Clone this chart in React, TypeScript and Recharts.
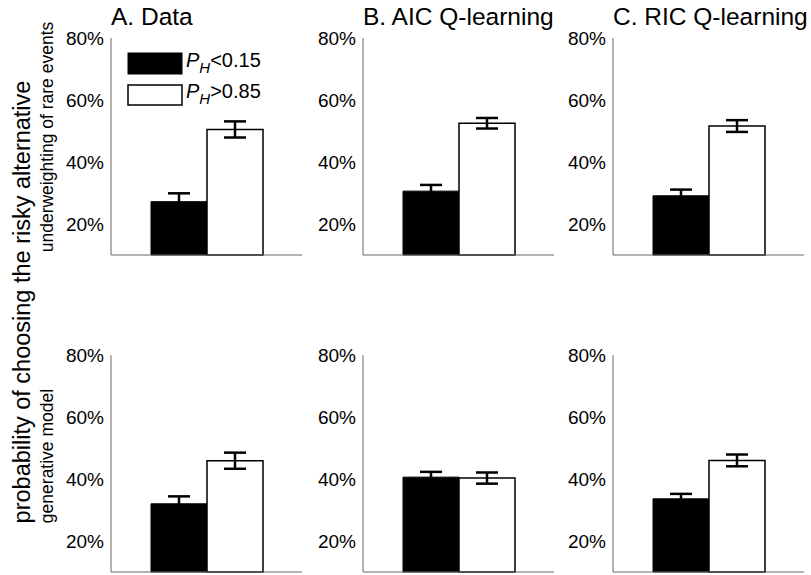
import { BarChart, Bar, XAxis, YAxis, ErrorBar } from 'recharts';

const panelTitles = ['A. Data', 'B. AIC Q-learning', 'C. RIC Q-learning'];
const rowLabels = ['underweighting of rare events', 'generative model'];
const yTicks = [20, 40, 60, 80];

// top row: underweighting of rare events
const lowTop = [27.2, 30.6, 29.1];
const lowTopErr = [2.7, 2.0, 2.0];
const highTop = [50.5, 52.5, 51.6];
const highTopErr = [2.6, 1.7, 1.9];

// bottom row: generative model
const lowBottom = [32.0, 40.6, 33.6];
const lowBottomErr = [2.4, 1.7, 1.6];
const highBottom = [45.9, 40.3, 46.0];
const highBottomErr = [2.6, 1.8, 1.9];

const FONT = '"Liberation Sans", Arial, sans-serif';

const colLeft = [41, 293, 543];
const rowTop = [26, 343];

const rows = [
  { low: lowTop, lowErr: lowTopErr, high: highTop, highErr: highTopErr },
  { low: lowBottom, lowErr: lowBottomErr, high: highBottom, highErr: highBottomErr },
];

function Panel({ low, lowErr, high, highErr }: { low: number; lowErr: number; high: number; highErr: number }) {
  const data = [{ name: 'g', low, lowErr, high, highErr }];
  return (
    <BarChart
      width={265}
      height={231}
      data={data}
      margin={{ top: 12, right: 4, left: 0, bottom: 0 }}
      barCategoryGap={40}
      barGap={0}
    >
      <XAxis dataKey="name" tick={false} tickLine={false} height={2} axisLine={{ stroke: '#666', strokeWidth: 1 }} />
      <YAxis
        domain={[10, 80]}
        ticks={yTicks}
        width={70}
        tickLine={false}
        tickSize={5}
        tickMargin={2}
        axisLine={{ stroke: '#666', strokeWidth: 1 }}
        tickFormatter={(v) => `${v}%`}
        tick={{ fill: '#000', fontSize: 19, fontFamily: FONT }}
      />
      <Bar dataKey="low" fill="#000" stroke="#000" strokeWidth={1} isAnimationActive={false}>
        <ErrorBar dataKey="lowErr" direction="y" width={11} stroke="#000" strokeWidth={2.5} />
      </Bar>
      <Bar dataKey="high" fill="#fff" stroke="#000" strokeWidth={1.5} isAnimationActive={false}>
        <ErrorBar dataKey="highErr" direction="y" width={11} stroke="#000" strokeWidth={2.5} />
      </Bar>
    </BarChart>
  );
}

export default function App() {
  return (
    <div style={{ position: 'absolute', left: 0, top: 0, width: 811, height: 575, background: '#fff', overflow: 'hidden' }}>
      {rows.map((r, ri) =>
        panelTitles.map((_, ci) => (
          <div key={`${ri}-${ci}`} style={{ position: 'absolute', left: colLeft[ci], top: rowTop[ri] }}>
            <Panel low={r.low[ci]} lowErr={r.lowErr[ci]} high={r.high[ci]} highErr={r.highErr[ci]} />
          </div>
        ))
      )}
      <svg width={811} height={575} style={{ position: 'absolute', left: 0, top: 0, pointerEvents: 'none' }}>
        <g fontFamily={FONT} fill="#000">
          {panelTitles.map((t, i) => (
            <text key={t} x={colLeft[i] + 70} y={25} fontSize={24.5}>{t}</text>
          ))}
          <text transform="translate(30,302) rotate(-90)" textAnchor="middle" fontSize={23.5}>
            probability of choosing the risky alternative
          </text>
          <text transform="translate(53,137) rotate(-90)" textAnchor="middle" fontSize={17.5}>
            {rowLabels[0]}
          </text>
          <text transform="translate(53,456) rotate(-90)" textAnchor="middle" fontSize={17.5}>
            {rowLabels[1]}
          </text>
          {/* legend */}
          <rect x={128} y={53} width={54} height={21} fill="#000" stroke="#000" />
          <rect x={128} y={85} width={54} height={20} fill="#fff" stroke="#000" strokeWidth={1.5} />
          <text x={186} y={67} fontSize={20}>
            <tspan fontStyle="italic">P</tspan>
            <tspan fontSize={15} fontStyle="italic" dy={6}>H</tspan>
            <tspan dy={-6}>&lt;0.15</tspan>
          </text>
          <text x={186} y={98} fontSize={20}>
            <tspan fontStyle="italic">P</tspan>
            <tspan fontSize={15} fontStyle="italic" dy={6}>H</tspan>
            <tspan dy={-6}>&gt;0.85</tspan>
          </text>
        </g>
      </svg>
    </div>
  );
}
